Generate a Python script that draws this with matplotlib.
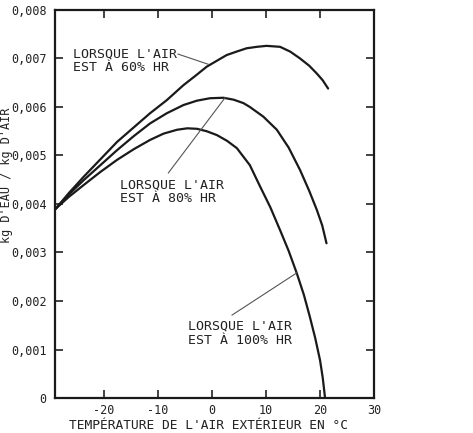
import matplotlib.pyplot as plt
import numpy as np

# temperatures (°C) and humidity ratio (kg water / kg air)
t_60 = [-29, -26.5, -23.8, -20.7, -17.6, -14.5, -11.5, -8.4, -5.3, -3.0, -1.0, 1.0,
        2.7, 4.5, 6.4, 8.3, 10.1, 12.6, 14.5, 16.3, 18.0, 19.4, 20.5, 21.5]
w_60 = [0.0039, 0.00423, 0.00456, 0.00492, 0.00528, 0.00558, 0.00587, 0.00614, 0.00645,
        0.00665, 0.00683, 0.00696, 0.00707, 0.00714, 0.00721, 0.00724, 0.00726, 0.00724,
        0.00714, 0.007, 0.00685, 0.00669, 0.00655, 0.00638]

t_80 = [-29, -26.5, -23.8, -20.7, -17.6, -14.5, -11.5, -8.4, -5.3, -2.8, -0.4, 2.1,
        4.0, 5.8, 7.0, 9.5, 12.0, 14.2, 16.3, 18.0, 19.4, 20.4, 21.2]
w_80 = [0.0039, 0.0042, 0.00449, 0.0048, 0.00511, 0.0054, 0.00566, 0.00587, 0.00604,
        0.00613, 0.00618, 0.00619, 0.00615, 0.00608, 0.006, 0.0058, 0.00553, 0.00516,
        0.0047, 0.00427, 0.00388, 0.00356, 0.00319]

t_100 = [-29, -26.5, -23.8, -20.7, -17.6, -14.5, -11.5, -9.0, -6.5, -4.6, -2.8, -1.0,
         0.9, 2.8, 4.6, 7.0, 8.9, 10.8, 12.6, 14.2, 15.7, 17.0, 18.1, 19.1, 20.0, 20.5, 20.9]
w_100 = [0.0039, 0.00415, 0.00439, 0.00466, 0.00491, 0.00513, 0.00532, 0.00545, 0.00553,
         0.00556, 0.00555, 0.0055, 0.00542, 0.0053, 0.00515, 0.0048, 0.00436, 0.00393,
         0.00346, 0.00303, 0.00257, 0.00213, 0.00168, 0.00124, 0.00078, 0.00042, 0.00003]

xticks = [-20, -10, 0, 10, 20, 30]
yticks = [0, 0.001, 0.002, 0.003, 0.004, 0.005, 0.006, 0.007, 0.008]
ytick_labels = ["0", "0,001", "0,002", "0,003", "0,004", "0,005", "0,006", "0,007", "0,008"]

plt.rcParams['font.family'] = ['DejaVu Sans Mono', 'DejaVu Sans']

fig = plt.figure(figsize=(4.73, 4.33), dpi=100)
ax = fig.add_axes([0.1163, 0.0808, 0.6744, 0.8962])

for t, w in [(t_60, w_60), (t_80, w_80), (t_100, w_100)]:
    ax.plot(t, w, color='#1a1a1a', lw=1.6, solid_capstyle='round', solid_joinstyle='round')

ax.set_xlim(-29.1, 30)
ax.set_ylim(0, 0.008)
ax.set_xticks(xticks)
ax.set_xticklabels([str(v) for v in xticks])
ax.set_yticks(yticks)
ax.set_yticklabels(ytick_labels)
ax.tick_params(direction='in', length=6, width=1.2, top=True, right=True,
               labelsize=8.5, colors='#222')
ax.tick_params(axis='x', pad=4)
ax.tick_params(axis='y', pad=6)
for s in ax.spines.values():
    s.set_linewidth(1.6)
    s.set_color('#1a1a1a')

# labels and leader lines
lab = dict(fontsize=9.5, va='center', ha='left', color='#222', linespacing=1.1)
ax.text(-25.7, 0.00695, "LORSQUE L'AIR\nEST À 60% HR", **lab)
ax.plot([-6.3, -0.7], [0.00709, 0.00688], color='#555', lw=0.8)

ax.text(-17.0, 0.00425, "LORSQUE L'AIR\nEST À 80% HR", **lab)
ax.plot([-8.1, 2.4], [0.00464, 0.00619], color='#555', lw=0.8)

ax.text(-4.4, 0.00134, "LORSQUE L'AIR\nEST À 100% HR", **lab)
ax.plot([3.7, 15.7], [0.00171, 0.00258], color='#555', lw=0.8)

fig.text(0.44, 0.003, "TEMPÉRATURE DE L'AIR EXTÉRIEUR EN °C", fontsize=9.3,
         ha='center', va='bottom', color='#222')
fig.text(0.013, 1 - 175 / 433, "kg D'EAU / kg D'AIR", fontsize=8.5,
         rotation=90, ha='center', va='center', color='#222')

plt.savefig("out.png", dpi=100)
